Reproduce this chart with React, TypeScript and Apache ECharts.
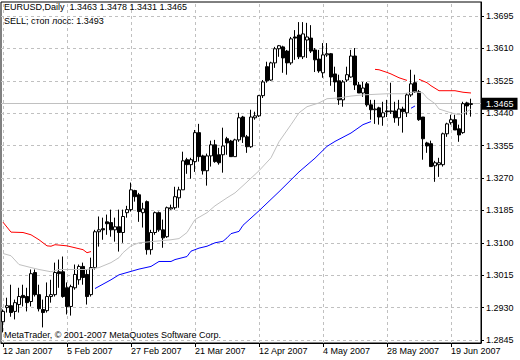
import React, { useEffect, useRef } from "react";
import * as echarts from "echarts";

// ---- Data (EURUSD Daily, 12 Jan 2007 .. 26 Jun 2007) ----
const opens = [
  1.2893, 1.2930, 1.2935, 1.2920, 1.2938, 1.2962, 1.2959, 1.2946, 1.3022, 1.2964,
  1.2925, 1.2922, 1.2959, 1.2964, 1.3024, 1.3024, 1.2982, 1.2933, 1.2982, 1.3003,
  1.3038, 1.3017, 1.2964, 1.3035, 1.3129, 1.3137, 1.3155, 1.3153, 1.3134, 1.3142,
  1.3127, 1.3179, 1.3187, 1.3237, 1.3226, 1.3179, 1.3208, 1.3082, 1.3127, 1.3179,
  1.3134, 1.3116, 1.3189, 1.3192, 1.3218, 1.3239, 1.3318, 1.3305, 1.3313, 1.3389,
  1.3328, 1.3289, 1.3328, 1.3357, 1.3331, 1.3331, 1.3373, 1.3367, 1.3326, 1.3370,
  1.3430, 1.3378, 1.3352, 1.3428, 1.3433, 1.3486, 1.3562, 1.3527, 1.3572, 1.3609,
  1.3614, 1.3603, 1.3572, 1.3640, 1.3645, 1.3588, 1.3632, 1.3637, 1.3606, 1.3582,
  1.3546, 1.3593, 1.3596, 1.3543, 1.3525, 1.3475, 1.3527, 1.3535, 1.3590, 1.3514,
  1.3493, 1.3517, 1.3462, 1.3449, 1.3454, 1.3430, 1.3446, 1.3444, 1.3446, 1.3428,
  1.3451, 1.3441, 1.3488, 1.3520, 1.3496, 1.3430, 1.3362, 1.3360, 1.3302, 1.3305,
  1.3305, 1.3386, 1.3415, 1.3423, 1.3399, 1.3389, 1.3467, 1.3463,
];
const highs = [
  1.2925, 1.2956, 1.2990, 1.2951, 1.2982, 1.2990, 1.2982, 1.3030, 1.3030, 1.2990,
  1.2951, 1.2996, 1.3003, 1.3048, 1.3056, 1.3064, 1.2996, 1.2990, 1.3043, 1.3043,
  1.3048, 1.3030, 1.3061, 1.3134, 1.3169, 1.3166, 1.3174, 1.3187, 1.3166, 1.3187,
  1.3187, 1.3197, 1.3258, 1.3239, 1.3231, 1.3205, 1.3211, 1.3134, 1.3182, 1.3182,
  1.3161, 1.3195, 1.3200, 1.3247, 1.3247, 1.3339, 1.3323, 1.3323, 1.3396, 1.3412,
  1.3331, 1.3334, 1.3368, 1.3370, 1.3349, 1.3402, 1.3378, 1.3370, 1.3373, 1.3441,
  1.3433, 1.3383, 1.3449, 1.3444, 1.3488, 1.3527, 1.3575, 1.3575, 1.3614, 1.3619,
  1.3617, 1.3606, 1.3640, 1.3658, 1.3679, 1.3679, 1.3677, 1.3671, 1.3611, 1.3606,
  1.3624, 1.3624, 1.3598, 1.3562, 1.3541, 1.3527, 1.3562, 1.3606, 1.3611, 1.3522,
  1.3522, 1.3522, 1.3475, 1.3475, 1.3457, 1.3470, 1.3475, 1.3520, 1.3470, 1.3475,
  1.3457, 1.3493, 1.3554, 1.3541, 1.3501, 1.3430, 1.3365, 1.3368, 1.3315, 1.3323,
  1.3389, 1.3415, 1.3436, 1.3436, 1.3410, 1.3470, 1.3470, 1.3478,
];
const lows = [
  1.2865, 1.2917, 1.2906, 1.2899, 1.2917, 1.2933, 1.2920, 1.2933, 1.2959, 1.2920,
  1.2878, 1.2917, 1.2943, 1.2959, 1.2982, 1.2956, 1.2912, 1.2909, 1.2977, 1.2990,
  1.2990, 1.2938, 1.2959, 1.3030, 1.3090, 1.3108, 1.3121, 1.3116, 1.3103, 1.3077,
  1.3100, 1.3166, 1.3182, 1.3208, 1.3155, 1.3140, 1.3069, 1.3069, 1.3121, 1.3129,
  1.3087, 1.3113, 1.3187, 1.3187, 1.3192, 1.3239, 1.3281, 1.3268, 1.3286, 1.3313,
  1.3279, 1.3250, 1.3300, 1.3310, 1.3305, 1.3284, 1.3331, 1.3326, 1.3326, 1.3365,
  1.3362, 1.3336, 1.3349, 1.3423, 1.3430, 1.3480, 1.3520, 1.3525, 1.3559, 1.3588,
  1.3546, 1.3541, 1.3567, 1.3580, 1.3582, 1.3582, 1.3585, 1.3598, 1.3548, 1.3546,
  1.3533, 1.3588, 1.3512, 1.3496, 1.3462, 1.3457, 1.3522, 1.3533, 1.3501, 1.3493,
  1.3483, 1.3457, 1.3423, 1.3412, 1.3410, 1.3407, 1.3430, 1.3438, 1.3415, 1.3407,
  1.3389, 1.3430, 1.3483, 1.3493, 1.3420, 1.3318, 1.3336, 1.3300, 1.3260, 1.3273,
  1.3300, 1.3378, 1.3410, 1.3396, 1.3365, 1.3386, 1.3436, 1.3431,
];
const closes = [
  1.2920, 1.2935, 1.2917, 1.2943, 1.2959, 1.2956, 1.2943, 1.3019, 1.2964, 1.2927,
  1.2917, 1.2959, 1.2964, 1.3022, 1.3019, 1.2959, 1.2933, 1.2985, 1.3017, 1.3038,
  1.3009, 1.2959, 1.3035, 1.3129, 1.3134, 1.3134, 1.3150, 1.3134, 1.3142, 1.3127,
  1.3169, 1.3187, 1.3239, 1.3221, 1.3182, 1.3189, 1.3082, 1.3127, 1.3179, 1.3134,
  1.3113, 1.3192, 1.3192, 1.3221, 1.3239, 1.3315, 1.3305, 1.3318, 1.3389, 1.3326,
  1.3289, 1.3328, 1.3357, 1.3313, 1.3310, 1.3354, 1.3362, 1.3326, 1.3370, 1.3428,
  1.3378, 1.3352, 1.3430, 1.3433, 1.3486, 1.3522, 1.3525, 1.3572, 1.3609, 1.3617,
  1.3585, 1.3572, 1.3635, 1.3637, 1.3588, 1.3648, 1.3640, 1.3603, 1.3580, 1.3551,
  1.3593, 1.3596, 1.3535, 1.3522, 1.3475, 1.3522, 1.3541, 1.3590, 1.3514, 1.3493,
  1.3506, 1.3462, 1.3449, 1.3451, 1.3430, 1.3441, 1.3444, 1.3446, 1.3428, 1.3451,
  1.3444, 1.3488, 1.3517, 1.3496, 1.3423, 1.3373, 1.3354, 1.3300, 1.3310, 1.3310,
  1.3386, 1.3412, 1.3423, 1.3396, 1.3383, 1.3465, 1.3459, 1.3465,
];

// light grey moving average, [bar index, price]
const maPoints = [
  [0, 1.3072], [2, 1.3066], [4, 1.3043], [7, 1.3035], [9, 1.3030], [12, 1.3024],
  [14, 1.3030], [17, 1.3030], [21, 1.3030], [24, 1.3035], [27, 1.3048], [29, 1.3061],
  [30, 1.3074], [32, 1.3092], [34, 1.3100], [37, 1.3103], [42, 1.3108], [44, 1.3111],
  [46, 1.3127], [48, 1.3161], [51, 1.3179], [53, 1.3197], [56, 1.3218], [58, 1.3231],
  [60, 1.3250], [64, 1.3289], [67, 1.3323], [69, 1.3365], [72, 1.3410], [74, 1.3441],
  [76, 1.3457], [79, 1.3467], [81, 1.3478], [84, 1.3480], [87, 1.3485], [90, 1.3488],
  [96, 1.3491], [100, 1.3491], [103, 1.3496], [105, 1.3493], [106, 1.3480], [108, 1.3465],
  [109, 1.3451], [112, 1.3441], [114, 1.3436], [116, 1.3444], [117, 1.3451],
];

// red stop line (above price) segments
const redStop1 = [
  [0, 1.3154], [2, 1.3128], [5, 1.3127], [7, 1.3121], [9, 1.3108], [11, 1.3092],
  [12, 1.3091], [13, 1.3095], [16, 1.3092], [18, 1.3087], [20, 1.3082], [21, 1.3074], [22, 1.3077],
];
const redStop2 = [[93, 1.3555], [94, 1.3554], [96, 1.3547], [97, 1.3543], [99, 1.3533], [101, 1.3526]];
const redStop3 = [[104, 1.3529], [106, 1.3520], [107, 1.3512], [109, 1.3499], [113, 1.3499], [115, 1.3495], [117, 1.3493]];

// blue stop line (below price) segments
const blueStop1 = [
  [23, 1.2980], [27, 1.3003], [29, 1.3016], [32, 1.3025], [34, 1.3031], [37, 1.3038],
  [39, 1.3051], [42, 1.3051], [43, 1.3056], [46, 1.3064], [47, 1.3078], [49, 1.3086],
  [51, 1.3091], [53, 1.3100], [55, 1.3104], [56, 1.3113], [57, 1.3124], [59, 1.3130],
  [60, 1.3146], [64, 1.3184], [69, 1.3234], [74, 1.3286], [78, 1.3322], [81, 1.3353],
  [83, 1.3366], [87, 1.3388], [90, 1.3410], [92, 1.3418],
];
const blueStop2 = [[102, 1.3453], [103, 1.3459]];

const yTicks = [1.2845, 1.2930, 1.3015, 1.3100, 1.3185, 1.3270, 1.3355, 1.3440, 1.3525, 1.3610, 1.3695];
const dateLabelStep = 16;
const firstDay = { y: 2007, m: 0, d: 12 };
const emptyBarsAfter = 2;
const lastOHLC = [1.3463, 1.3478, 1.3431, 1.3465];
const stopLoss = 1.3493;

const MONTHS = ["Jan", "Feb", "Mar", "Apr", "May", "Jun", "Jul", "Aug", "Sep", "Oct", "Nov", "Dec"];

function buildDates(n: number): string[] {
  const out: string[] = [];
  const dt = new Date(Date.UTC(firstDay.y, firstDay.m, firstDay.d));
  while (out.length < n) {
    const wd = dt.getUTCDay();
    if (wd !== 0 && wd !== 6) {
      out.push(`${dt.getUTCDate()} ${MONTHS[dt.getUTCMonth()]} ${dt.getUTCFullYear()}`);
    }
    dt.setUTCDate(dt.getUTCDate() + 1);
  }
  return out;
}

const FONT = '"Liberation Sans", Arial, sans-serif';

export default function App() {
  const ref = useRef<HTMLDivElement>(null);

  useEffect(() => {
    document.body.style.margin = "0";
    if (!ref.current) return;
    const chart = echarts.init(ref.current, null, { renderer: "svg" });

    const nBars = opens.length;
    const dates = buildDates(nBars + emptyBarsAfter);
    const candles = opens.map((o, i) => [o, closes[i], lows[i], highs[i]]);

    const pxPerUnit = 32.4 / (yTicks[1] - yTicks[0]);
    const yMax = yTicks[yTicks.length - 1] + 14 / pxPerUnit;
    const yMin = yTicks[0] - 3 / pxPerUnit;

    const gridDash = { color: "#c0c0c0", type: [3, 3], width: 1 };
    const vIdx: number[] = [];
    for (let i = 0; i < nBars; i += dateLabelStep) vIdx.push(i);

    const last = closes[nBars - 1];

    const lineSeries = (data: number[][], color: string) => ({
      type: "line",
      data,
      symbol: "none",
      showSymbol: false,
      silent: true,
      z: 3,
      lineStyle: { color, width: 1 },
    });

    const option: any = {
      animation: false,
      backgroundColor: "#ffffff",
      textStyle: { fontFamily: FONT },
      grid: {
        left: 1, right: 39, top: 2, bottom: 17,
        show: true, borderColor: "#000", borderWidth: 1, backgroundColor: "transparent",
      },
      xAxis: {
        type: "category",
        data: dates,
        boundaryGap: true,
        axisLine: { show: true, onZero: false, lineStyle: { color: "#000", width: 1 } },
        axisTick: { show: true, alignWithLabel: true, interval: dateLabelStep - 1, length: 4, lineStyle: { color: "#000" } },
        axisLabel: {
          interval: dateLabelStep - 1, align: "left", margin: 3,
          fontSize: 9, color: "#000", fontFamily: FONT,
        },
        splitLine: { show: false },
      },
      yAxis: {
        type: "value",
        position: "right",
        min: yMin,
        max: yMax,
        axisLine: { show: true, lineStyle: { color: "#000", width: 1 } },
        axisTick: { show: true, length: 3, customValues: yTicks, lineStyle: { color: "#000" } },
        axisLabel: {
          customValues: yTicks, margin: 5, fontSize: 9, color: "#000", fontFamily: FONT,
          formatter: (v: number) => v.toFixed(4),
        },
        splitLine: { show: false },
      },
      series: [
        {
          type: "candlestick",
          data: candles,
          barWidth: 3,
          z: 2,
          silent: true,
          itemStyle: {
            color: "#ffffff", color0: "#000000",
            borderColor: "#000000", borderColor0: "#000000", borderWidth: 1,
          },
          markLine: {
            silent: true,
            precision: 4,
            symbol: ["none", "none"],
            z: 1,
            animation: false,
            label: { show: false },
            emphasis: { disabled: true },
            data: [
              ...yTicks.map((v) => ({ yAxis: v, lineStyle: gridDash })),
              ...vIdx.map((i) => ({ xAxis: dates[i], lineStyle: gridDash })),
              {
                yAxis: last,
                lineStyle: { color: "#c0c0c0", type: "solid", width: 1 },
                label: {
                  show: true, position: "end", distance: 1,
                  formatter: last.toFixed(4),
                  backgroundColor: "#000", color: "#fff",
                  padding: [2, 4, 1, 4], fontSize: 9, fontFamily: FONT,
                },
              },
            ],
          },
        },
        lineSeries(maPoints, "#c0c0c0"),
        lineSeries(redStop1, "#ff0000"),
        lineSeries(redStop2, "#ff0000"),
        lineSeries(redStop3, "#ff0000"),
        lineSeries(blueStop1, "#0000ff"),
        lineSeries(blueStop2, "#0000ff"),
      ],
      graphic: [
        {
          type: "text", x: 4, y: 7, z: 10,
          style: {
            text: `EURUSD,Daily  ${lastOHLC.map((v) => v.toFixed(4)).join(" ")}`,
            font: `9px ${FONT}`, fill: "#000", verticalAlign: "middle",
          },
        },
        {
          type: "text", x: 4, y: 21, z: 10,
          style: {
            text: `SELL; стоп лосс: ${stopLoss.toFixed(4)}`,
            font: `9px ${FONT}`, fill: "#000", verticalAlign: "middle",
          },
        },
        {
          type: "text", x: 4, y: 335, z: 10,
          style: {
            text: "MetaTrader, © 2001-2007 MetaQuotes Software Corp.",
            font: `9px ${FONT}`, fill: "#000", verticalAlign: "middle",
          },
        },
      ],
    };

    chart.setOption(option);
    return () => chart.dispose();
  }, []);

  return (
    <div
      ref={ref}
      style={{ position: "absolute", left: 0, top: 0, width: 520, height: 360, background: "#fff" }}
    />
  );
}
